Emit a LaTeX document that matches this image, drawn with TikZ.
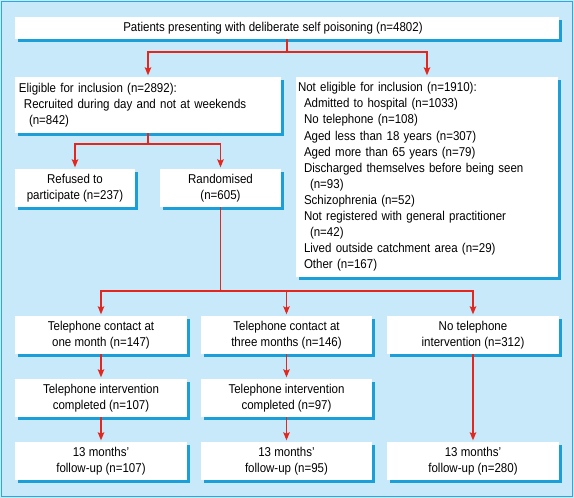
\documentclass[tikz,border=0pt]{standalone}
\usepackage{fontspec}
\setmainfont{Liberation Sans}[FakeStretch=0.9]
\usetikzlibrary{shadows,arrows.meta}
\definecolor{bgblue}{HTML}{C8E9F9}
\definecolor{frameblue}{HTML}{29A9E1}
\definecolor{shblue}{HTML}{1A9FD9}
\definecolor{arrred}{HTML}{E3261E}
\begin{document}
\begin{tikzpicture}[x=1pt,y=-1pt,
  box/.style={fill=white, draw=none, inner xsep=0pt, inner ysep=0pt,
    drop shadow={shadow xshift=2.5pt, shadow yshift=-2.5pt, fill=shblue, opacity=1},
    font=\fontsize{12.8}{16.1}\selectfont},
  cbox/.style={box, align=center, minimum height=38pt},
  lbox/.style={box, align=left},
  txt/.style={inner sep=0pt, font=\fontsize{12.8}{16.1}\selectfont},
  conn/.style={draw=arrred, line width=1.1pt},
  arr/.style={conn, -{Stealth[length=8pt,width=6.5pt,inset=1.5pt]}, shorten >=1.5pt}
]
\useasboundingbox (0,0) rectangle (574,498);
\fill[bgblue] (0,0) rectangle (574,498);
\draw[frameblue, line width=1.6pt] (1.5,1.5) rectangle (572.5,496.5);

% top
\node[box, minimum width=544pt, minimum height=22pt] (top) at (287,28) {};
\node[txt] (toptext) at (273,28) {Patients presenting with deliberate self poisoning (n=4802)};

% second row
\node[lbox, inner xsep=4pt, text width=258pt, minimum height=56pt] (elig) at (148,105)
 {Eligible for inclusion (n=2892):\\
  \hspace*{5pt}Recruited during day and not at weekends\\
  \hspace*{10pt}(n=842)};
\node[lbox, inner xsep=2pt, text width=258pt, minimum height=200pt] (nelig) at (427,177)
 {Not eligible for inclusion (n=1910):\\
  \hspace*{6pt}Admitted to hospital (n=1033)\\
  \hspace*{6pt}No telephone (n=108)\\
  \hspace*{6pt}Aged less than 18 years (n=307)\\
  \hspace*{6pt}Aged more than 65 years (n=79)\\
  \hspace*{6pt}Discharged themselves before being seen\\
  \hspace*{12pt}(n=93)\\
  \hspace*{6pt}Schizophrenia (n=52)\\
  \hspace*{6pt}Not registered with general practitioner\\
  \hspace*{12pt}(n=42)\\
  \hspace*{6pt}Lived outside catchment area (n=29)\\
  \hspace*{6pt}Other (n=167)};

% third row
\node[cbox, minimum width=120pt] (ref) at (75,188) {Refused to\\participate (n=237)};
\node[cbox, minimum width=121pt] (rand) at (220.5,188) {Randomised\\(n=605)};

% groups
\node[cbox, minimum width=172pt] (a1) at (101,335) {Telephone contact at\\one month (n=147)};
\node[cbox, minimum width=171pt] (b1) at (286.5,335) {Telephone contact at\\three months (n=146)};
\node[cbox, minimum width=172pt] (c1) at (473,335) {No telephone\\intervention (n=312)};
\node[cbox, minimum width=172pt] (a2) at (101,398) {Telephone intervention\\completed (n=107)};
\node[cbox, minimum width=171pt] (b2) at (286.5,398) {Telephone intervention\\completed (n=97)};
\node[cbox, minimum width=172pt] (a3) at (101,461) {13 months\char"0027\\follow-up (n=107)};
\node[cbox, minimum width=171pt] (b3) at (286.5,461) {13 months\char"0027\\follow-up (n=95)};
\node[cbox, minimum width=172pt] (c3) at (473,461) {13 months\char"0027\\follow-up (n=280)};

% connectors
\coordinate (s1) at (287,52);
\draw[conn] (top.south) -- (s1);
\draw[arr] (s1) -| (elig.north);
\draw[arr] (s1) -| (nelig.north);

\coordinate (s2) at (148,144);
\draw[conn] (elig.south) -- (s2);
\draw[arr] (s2) -| (ref.north);
\draw[arr] (s2) -| (rand.north);

\coordinate (s3) at (220.5,291);
\draw[conn] (rand.south) -- (s3);
\draw[arr] (s3) -| (a1.north);
\draw[arr] (s3) -| (b1.north);
\draw[arr] (s3) -| (c1.north);

\draw[arr] (a1) -- (a2);
\draw[arr] (a2) -- (a3);
\draw[arr] (b1) -- (b2);
\draw[arr] (b2) -- (b3);
\draw[arr] (c1) -- (c3);
\end{tikzpicture}
\end{document}
